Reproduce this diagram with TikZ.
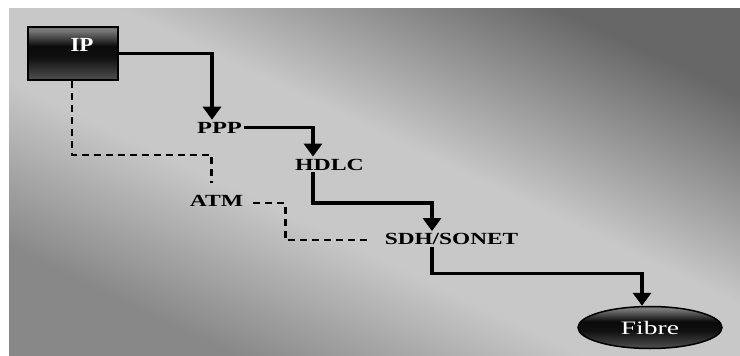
\documentclass[tikz,border=0pt]{standalone}
\usepackage{fontspec}
\setmainfont{Liberation Serif}
\usetikzlibrary{arrows.meta,calc,shapes.geometric}
\definecolor{bgdark}{HTML}{676767}
\definecolor{bglight}{HTML}{C8C8C8}
\definecolor{bgmid}{HTML}{888888}
\definecolor{gA}{HTML}{2E2E2E}
\definecolor{gB}{HTML}{7A7A7A}
\definecolor{gC}{HTML}{0A0A0A}
\definecolor{gD}{HTML}{101010}
\definecolor{gE}{HTML}{505050}
\definecolor{gF}{HTML}{606060}
\pgfdeclareverticalshading{glossy}{100bp}{color(0bp)=(gF); color(25bp)=(gE); color(46bp)=(gD); color(57bp)=(gC); color(72bp)=(gB); color(100bp)=(gA)}
\pgfdeclareverticalshading{bgshade}{100bp}{color(0bp)=(bgmid); color(27bp)=(bgmid); color(43bp)=(bglight); color(55bp)=(bglight); color(75bp)=(bgdark); color(100bp)=(bgdark)}
\newcommand{\hstr}[2]{\scalebox{#1}[1]{#2}}
\begin{document}
\begin{tikzpicture}[x=1pt,y=-1pt,
  lbl/.style={inner sep=2pt, font=\fontsize{17}{20}\selectfont\bfseries, text=black},
  arr/.style={line width=3.4pt, -{Triangle[length=13pt,width=18pt]}},
  dsh/.style={line width=2.4pt, dash pattern=on 7pt off 5pt},
  gloss/.style={draw=black, line width=1.5pt, shading=glossy}]
\useasboundingbox (0,0) rectangle (740,356);
\fill[white] (0,0) rectangle (740,356);
\shade[shading=bgshade, shading angle=-25.5] (9,8) rectangle (740,356);
% nodes
\node[gloss, rectangle, minimum width=90pt, minimum height=53pt, inner sep=0pt,
      text=white, font=\fontsize{20}{22}\selectfont\bfseries] (ip) at (73,53.5)
      {\hspace*{18pt}\raisebox{17pt}{\hstr{1.15}{IP}}};
\node[lbl] (ppp) at (219.5,127.5) {\hstr{1.44}{PPP}};
\node[lbl] (hdlc) at (329.5,164.5) {\hstr{1.4}{HDLC}};
\node[lbl] (atm) at (216.5,201) {\hstr{1.39}{ATM}};
\node[lbl] (sdh) at (451.5,239) {\hstr{1.37}{SDH/SONET}};
\node[gloss, ellipse, minimum width=144pt, minimum height=42pt, inner sep=0pt,
      text=white, font=\fontsize{19}{21}\selectfont] (fibre) at (650,327.5)
      {\hstr{1.45}{Fibre}\hspace{15pt}};
% solid arrows
\draw[arr] (ip.east) -| ($(ppp.north)+(-7.5,0)$);
\draw[arr] (ppp.east) -| ($(hdlc.north)+(-16.5,0)$);
\draw[arr] ($(hdlc.south)+(-16.5,0)$) |- ($(sdh.north)+(-19.5,-28)$) -- ($(sdh.north)+(-19.5,0)$);
\draw[arr] ($(sdh.south)+(-19.5,0)$) |- ($(fibre.north)+(-8,-32)$) -- ($(fibre.north)+(-8,0)$);
% dashed lines
\draw[dsh] ($(ip.south)+(-1,0)$) |- ($(atm.north)+(-5,-38)$) -- ($(atm.north)+(-5,-10)$);
\draw[dsh] ($(atm.east)+(8,2)$) -- ($(atm.east)+(40,2)$) |- ($(sdh.west)+(-13,1)$);
\end{tikzpicture}
\end{document}
